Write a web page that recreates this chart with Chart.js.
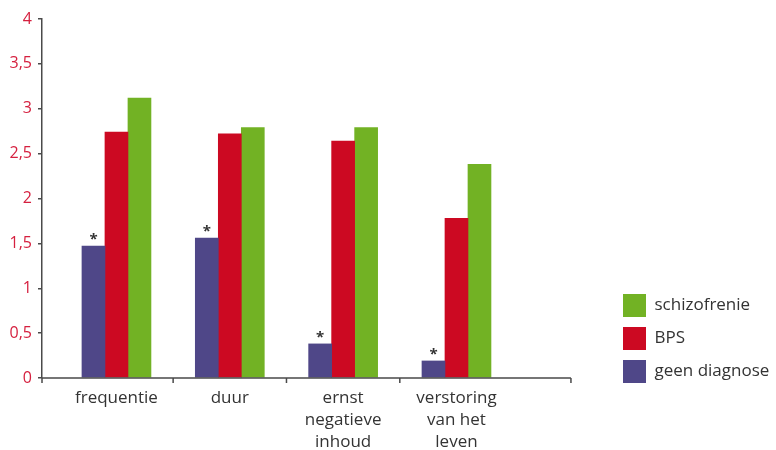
<!DOCTYPE html>
<html>
<head>
<meta charset="utf-8">
<script src="https://cdn.jsdelivr.net/npm/chart.js@4/dist/chart.umd.min.js"></script>
<style>
  html, body { margin: 0; padding: 0; background: #fff; }
  #wrap { width: 776px; height: 450px; }
</style>
</head>
<body>
<div id="wrap"><canvas id="myChart"></canvas></div>
<script>
// categories on the x axis (multi-line labels)
const categories = [
	['frequentie'],
	['duur'],
	['ernst', 'negatieve', 'inhoud'],
	['verstoring', 'van het', 'leven']
];

// series values
const geenDiagnose = [1.47, 1.56, 0.38, 0.19];
const bps = [2.74, 2.72, 2.64, 1.78];
const schizofrenie = [3.12, 2.79, 2.79, 2.38];

// which "geen diagnose" bars carry an asterisk
const significant = [true, true, true, true];

// y tick values
const yTicks = [0, 0.5, 1, 1.5, 2, 2.5, 3, 3.5, 4];

const textColor = '#333333';
const axisColor = '#4a4a4a';

// x axis in category units: category i is centred on i + 0.5
const xMin = -0.157;
const xMax = 4.881;
const xAxisEnd = 4.51;

function toPoints(values) {
	return values.map((v, i) => ({ x: i + 0.5, y: v }));
}

// x axis line, tick marks between the categories and the asterisks
const extras = {
	id: 'extras',
	afterDatasetsDraw(chart) {
		const ctx = chart.ctx;
		const x = chart.scales.x;
		const y = chart.scales.y;
		const base = y.getPixelForValue(0);
		const end = x.getPixelForValue(xAxisEnd);

		ctx.save();
		ctx.strokeStyle = axisColor;
		ctx.lineWidth = 1.5;
		ctx.beginPath();
		ctx.moveTo(chart.chartArea.left, base);
		ctx.lineTo(end, base);
		let marks = [xMin];
		for (let i = 1; i < categories.length; i++) marks.push(i);
		marks.push(xAxisEnd);
		marks.forEach(m => {
			const px = x.getPixelForValue(m);
			ctx.moveTo(px, base);
			ctx.lineTo(px, base + 5);
		});
		ctx.stroke();

		const meta = chart.getDatasetMeta(0);
		ctx.fillStyle = textColor;
		ctx.font = 'bold 15px "Open Sans"';
		ctx.textAlign = 'center';
		ctx.textBaseline = 'alphabetic';
		meta.data.forEach((bar, i) => {
			if (significant[i]) ctx.fillText('*', bar.x, bar.y - 2);
		});
		ctx.restore();
	}
};

const myChart = document.getElementById('myChart');

let barChart = new Chart(myChart, {
	type: 'bar',
	data: {
		datasets: [
			{
				label: 'geen diagnose',
				data: toPoints(geenDiagnose),
				backgroundColor: '#4f4788',
				borderColor: '#4f4788',
				borderWidth: 0
			},
			{
				label: 'BPS',
				data: toPoints(bps),
				backgroundColor: '#cc0922',
				borderColor: '#cc0922',
				borderWidth: 0
			},
			{
				label: 'schizofrenie',
				data: toPoints(schizofrenie),
				backgroundColor: '#72b224',
				borderColor: '#72b224',
				borderWidth: 0
			}
		]
	},
	options: {
		responsive: true,
		maintainAspectRatio: false,
		animation: false,
		barThickness: 23,
		layout: {
			padding: { top: 19, bottom: 0, left: 0, right: 0 }
		},
		plugins: {
			tooltip: { enabled: false },
			legend: {
				position: 'right',
				align: 'start',
				fullSize: true,
				reverse: true,
				maxWidth: 163,
				// empty title only pushes the items down
				title: {
					display: true,
					text: '',
					font: { size: 12, lineHeight: 1.2 },
					padding: { top: 250.6, bottom: 0 }
				},
				labels: {
					boxWidth: 23,
					boxHeight: 23,
					padding: 10,
					color: textColor,
					font: { family: '"Open Sans"', size: 17 }
				}
			}
		},
		scales: {
			x: {
				type: 'linear',
				min: xMin,
				max: xMax,
				offset: false,
				grid: { display: false },
				border: { display: false },
				afterBuildTicks: scale => {
					scale.ticks = categories.map((c, i) => ({ value: i + 0.5 }));
				},
				afterFit: scale => { scale.height = 72; },
				ticks: {
					autoSkip: false,
					maxRotation: 0,
					padding: 1,
					color: textColor,
					font: { family: '"Open Sans"', size: 17, lineHeight: 1.3 },
					callback: (value, index) => categories[index]
				}
			},
			y: {
				min: 0,
				max: 4,
				afterBuildTicks: scale => {
					scale.ticks = yTicks.map(v => ({ value: v }));
				},
				afterFit: scale => { scale.width = 42; },
				grid: {
					drawOnChartArea: false,
					tickLength: 4,
					color: axisColor,
					lineWidth: 1.5
				},
				border: { display: true, color: axisColor, width: 1.5 },
				ticks: {
					padding: 6,
					color: '#d5203f',
					font: { family: '"Open Sans"', size: 16 },
					callback: value => String(value).replace('.', ',')
				}
			}
		}
	},
	plugins: [extras]
});
</script>
</body>
</html>
